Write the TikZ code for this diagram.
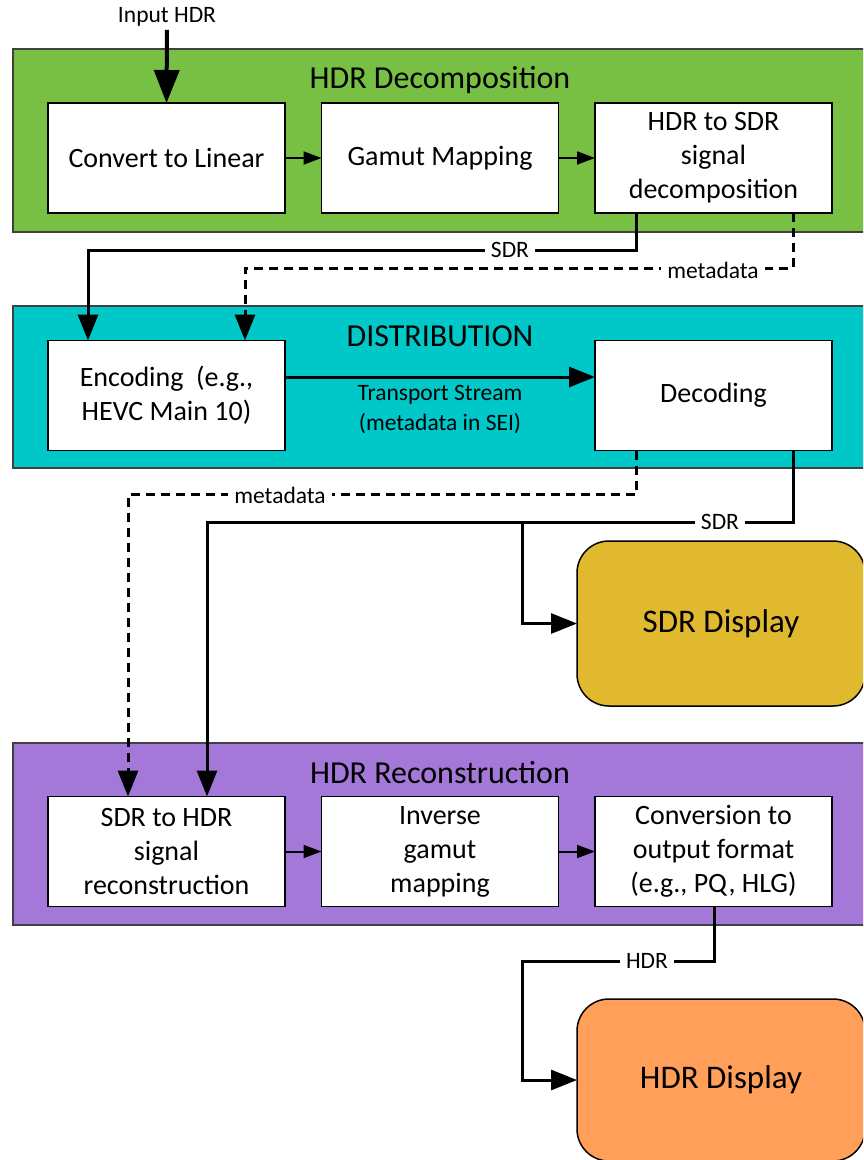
\documentclass[tikz,border=0pt]{standalone}
\usepackage{fontspec}
\setmainfont{Carlito}
\usetikzlibrary{arrows.meta,positioning,calc}

\definecolor{decgreen}{HTML}{78C043}
\definecolor{distcyan}{HTML}{00C8C8}
\definecolor{recpurple}{HTML}{A478D8}
\definecolor{sdrgold}{HTML}{E0B92E}
\definecolor{hdrorange}{HTML}{FF9F5A}

\tikzset{
	panel/.style={draw=black!75, line width=1.8pt, minimum width=860pt, anchor=north west},
	paneltitle/.style={font=\fontsize{32}{38}\selectfont},
	stage/.style={draw, line width=1.5pt, fill=white, outer sep=0pt, minimum width=237pt, minimum height=110pt, align=center, font=\fontsize{28}{34}\selectfont},
	display/.style={draw, line width=1.5pt, outer sep=0pt, rounded corners=32pt, minimum width=288pt, align=center, font=\fontsize{33}{40}\selectfont},
	wirelabel/.style={fill=white, inner sep=6pt, font=\fontsize{23.5}{30}\selectfont},
	bigarrow/.style={line width=4pt, -{Triangle[length=33pt,width=25pt]}},
	flow/.style={line width=3pt, -{Triangle[length=26pt,width=20pt]}},
	metaflow/.style={flow, dash pattern=on 9pt off 6pt},
	hop/.style={line width=2pt, -{Triangle[length=18pt,width=13pt]}}
}

\begin{document}
\begin{tikzpicture}[x=1pt,y=-1pt]
	\useasboundingbox (0,0) rectangle (863,1160);
	\clip (0,0) rectangle (863,1160);

	% panels
	\node[panel, fill=decgreen, minimum height=183pt] (decomp) at (12,48) {};
	\node[panel, fill=distcyan, minimum height=162pt] (dist) at (12,305) {};
	\node[panel, fill=recpurple, minimum height=182pt] (recon) at (12,742) {};

	\node[paneltitle] (decomptitle) at (440,80) {HDR Decomposition};
	\node[paneltitle] (disttitle) at (440,336) {DISTRIBUTION};
	\node[paneltitle] (recontitle) at (440,773) {HDR Reconstruction};

	% decomposition
	\node[stage] (conv) at (166.5,158) {Convert to Linear};
	\node[stage, right=36.5pt of conv] (gamut) {Gamut Mapping};
	\node[stage, right=36.5pt of gamut] (hsd) {HDR to SDR\\signal\\decomposition};

	% distribution
	\node[stage] (enc) at (166.5,395.5) {Encoding\ \ (e.g.,\\HEVC Main 10)};
	\node[stage] (dec) at (713.5,395.5) {Decoding};

	% reconstruction
	\node[stage] (sdrhdr) at (166.5,851.5) {SDR to HDR\\signal\\reconstruction};
	\node[stage, right=36.5pt of sdrhdr] (invgam) {Inverse\\gamut\\mapping};
	\node[stage, right=36.5pt of invgam] (convout) {Conversion to\\output format\\(e.g., PQ, HLG)};

	% displays
	\node[display, fill=sdrgold, minimum height=165pt] (sdrdisp) at (721,623.5) {SDR Display};
	\node[display, fill=hdrorange, minimum height=162pt] (hdrdisp) at (721,1080) {HDR Display};

	\coordinate (sdrsplit) at (522,522);
	\coordinate (hdrbend) at (522,961);

	% connectors
	\node[font=\fontsize{23.5}{30}\selectfont] (input) at (167,17) {Input HDR};
	\draw[bigarrow] (input.south) -- (conv.north);
	\draw[hop] (conv) -- (gamut);
	\draw[hop] (gamut) -- (hsd);

	\draw[flow] ([xshift=-77.5pt]hsd.south) -- ++(0,37) -| ([xshift=-78.5pt]enc.north);
	\draw[metaflow] ([xshift=79.5pt]hsd.south) -- ++(0,55) -| ([xshift=78.5pt]enc.north);
	\node[wirelabel] (sdrlabA) at (510,250) {SDR};
	\node[wirelabel] (metalabA) at (713,270) {metadata};

	\draw[flow] ([yshift=18.5pt]enc.east) -- ([yshift=18.5pt]dec.west);
	\node[align=center, font=\fontsize{23.5}{30}\selectfont] (tslabel) at (440,409) {Transport Stream\\(metadata in SEI)};

	\draw[metaflow] ([xshift=-77.5pt]dec.south) -- ++(0,44) -| ([xshift=-38.5pt]sdrhdr.north);
	\draw[flow] ([xshift=79.5pt]dec.south) -- ++(0,72) -| ([xshift=40.5pt]sdrhdr.north);
	\draw[flow] (sdrsplit) |- (sdrdisp.west);
	\node[wirelabel] (metalabB) at (280,495) {metadata};
	\node[wirelabel] (sdrlabB) at (720,522) {SDR};

	\draw[hop] (sdrhdr) -- (invgam);
	\draw[hop] (invgam) -- (convout);

	\draw[flow] ([xshift=0.5pt]convout.south) |- (hdrbend) |- (hdrdisp.west);
	\node[wirelabel] (hdrlab) at (647,961) {HDR};
\end{tikzpicture}
\end{document}
